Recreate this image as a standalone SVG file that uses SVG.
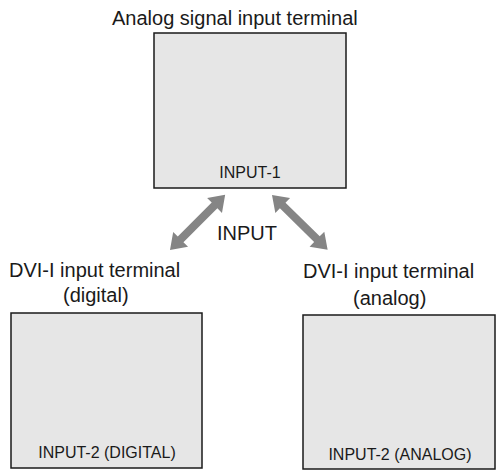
<svg xmlns="http://www.w3.org/2000/svg" xmlns:xlink="http://www.w3.org/1999/xlink" width="501" height="471" viewBox="0 0 501 471">
<style>
.box{fill:#e6e6e6;stroke:#1a1a1a;stroke-width:1.5}
.lbl{font-family:"Liberation Sans",Arial,sans-serif;font-size:20px;fill:#1a1a1a}
.in{font-family:"Liberation Sans",Arial,sans-serif;font-size:16px;fill:#1a1a1a}
.arr{fill:#858585}
</style>
<defs>
<polygon id="darrow" class="arr" points="0,0 15,-10.5 15,-4 63,-4 63,-10.5 78,0 63,10.5 63,4 15,4 15,10.5"/>
</defs>
<rect width="501" height="471" fill="#ffffff"/>
<g id="input1">
<text class="lbl" x="112" y="25">Analog signal input terminal</text>
<rect class="box" x="154" y="33" width="192" height="155"/>
<text class="in" x="250" y="178" text-anchor="middle">INPUT-1</text>
</g>
<g id="input2-digital">
<text class="lbl" x="9" y="277">DVI-I input terminal</text>
<text class="lbl" x="63" y="302">(digital)</text>
<rect class="box" x="11" y="313" width="191" height="155"/>
<text class="in" x="107" y="458" text-anchor="middle">INPUT-2 (DIGITAL)</text>
</g>
<g id="input2-analog">
<text class="lbl" x="303" y="278">DVI-I input terminal</text>
<text class="lbl" x="353" y="305">(analog)</text>
<rect class="box" x="303" y="315" width="192" height="154"/>
<text class="in" x="400" y="460" text-anchor="middle">INPUT-2 (ANALOG)</text>
</g>
<g id="connectors">
<use xlink:href="#darrow" transform="translate(170,250) rotate(-45)"/>
<use xlink:href="#darrow" transform="translate(272,195) rotate(44.5)"/>
<text class="lbl" x="247" y="240" text-anchor="middle">INPUT</text>
</g>
</svg>
